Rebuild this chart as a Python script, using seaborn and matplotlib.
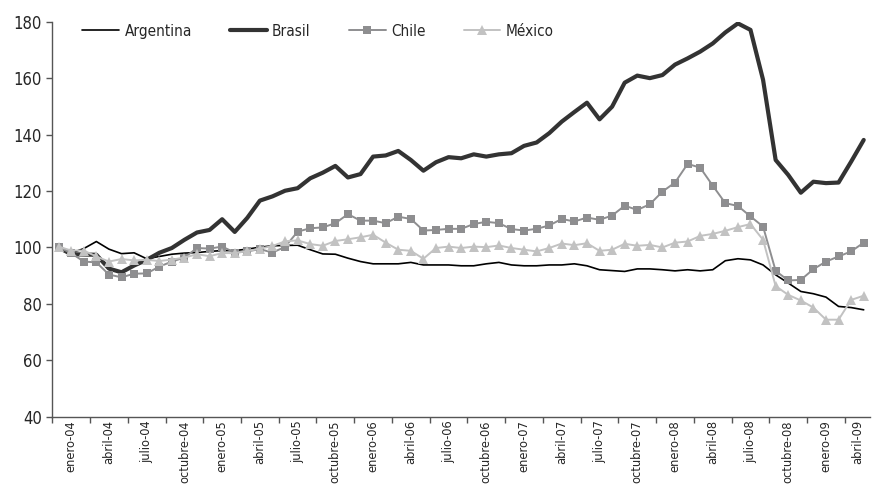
import numpy as np
import pandas as pd
import seaborn as sns
import matplotlib.pyplot as plt
import matplotlib.font_manager as fm
from matplotlib.ticker import FixedLocator

# índices mensuales, enero-04 a mayo-09
meses = ['enero', 'abril', 'julio', 'octubre']
anios = ['04', '05', '06', '07', '08', '09']
tick_labels = ['{}-{}'.format(m, a) for a in anios for m in meses][:22]

argentina = [100.0, 98.0, 99.6, 102.1, 99.4, 97.8, 98.1, 96.0, 96.8, 97.6,
             98.0, 98.2, 98.6, 98.9, 98.9, 99.4, 100.1, 100.6, 100.7, 100.8,
             99.2, 97.7, 97.6, 96.2, 95.0, 94.2, 94.2, 94.2, 94.7, 93.8,
             93.8, 93.8, 93.5, 93.5, 94.2, 94.7, 93.8, 93.5, 93.5, 93.8,
             93.8, 94.2, 93.5, 92.1, 91.8, 91.5, 92.4, 92.4, 92.1, 91.7,
             92.1, 91.7, 92.1, 95.3, 96.0, 95.6, 93.8, 90.3, 87.4, 84.4,
             83.6, 82.4, 79.1, 78.7, 77.9]
brasil = [100.0, 97.6, 97.5, 97.4, 92.5, 91.2, 93.6, 95.6, 98.1, 99.8,
          102.7, 105.3, 106.2, 110.0, 105.5, 110.5, 116.6, 118.1, 120.1, 121.0,
          124.5, 126.5, 128.9, 124.8, 126.0, 132.2, 132.6, 134.2, 131.0, 127.2,
          130.2, 132.0, 131.6, 133.0, 132.2, 133.0, 133.4, 136.0, 137.2, 140.5,
          144.6, 148.0, 151.3, 145.4, 149.9, 158.4, 160.9, 160.0, 161.1, 164.8,
          167.0, 169.4, 172.3, 176.2, 179.4, 177.1, 159.4, 131.0, 125.7, 119.4,
          123.3, 122.8, 123.0, 130.4, 138.1]
chile = [100.1, 98.0, 95.0, 94.7, 90.4, 89.4, 90.7, 90.8, 93.2, 95.0,
         96.4, 99.8, 99.6, 100.3, 98.2, 98.6, 99.4, 98.2, 100.2, 105.6,
         106.8, 107.1, 108.6, 111.8, 109.5, 109.5, 108.6, 110.9, 110.1, 106.0,
         106.2, 106.6, 106.6, 108.3, 109.1, 108.6, 106.5, 106.0, 106.6, 107.8,
         110.1, 109.2, 110.6, 109.8, 111.3, 114.8, 113.3, 115.3, 119.8, 123.0,
         129.6, 128.3, 121.9, 115.7, 114.7, 111.0, 107.4, 91.7, 88.3, 88.5,
         92.3, 95.0, 96.8, 98.6, 101.7]
mexico = [100.3, 98.9, 98.9, 96.8, 95.0, 95.9, 95.4, 95.6, 95.2, 95.7,
          96.4, 97.6, 96.9, 98.0, 98.0, 98.7, 99.6, 100.5, 102.2, 102.5,
          101.2, 100.6, 102.3, 102.9, 103.6, 104.5, 101.7, 99.2, 98.8, 96.0,
          99.8, 100.3, 99.8, 100.3, 100.1, 100.7, 99.8, 99.2, 98.6, 99.8,
          101.4, 100.8, 101.5, 98.8, 99.2, 101.3, 100.6, 100.9, 100.0, 101.7,
          102.1, 104.1, 104.8, 105.9, 107.2, 108.3, 102.7, 86.3, 83.2, 81.2,
          78.7, 74.4, 74.4, 81.4, 82.9]

n = len(brasil)
mes = np.arange(n)

sns.set_style('white')

# buscar una fuente estrecha; si no hay, letra normal más chica
fuentes = [(f.name, str(f.stretch)) for f in fm.fontManager.ttflist]
if any(nm == 'Liberation Sans Narrow' for nm, _ in fuentes):
    plt.rcParams['font.family'] = ['Liberation Sans Narrow', 'DejaVu Sans']
    fs = 10.5
elif any(nm == 'DejaVu Sans' and st in ('condensed', '87.5', 'semi-condensed') for nm, st in fuentes):
    plt.rcParams['font.family'] = ['DejaVu Sans']
    plt.rcParams['font.stretch'] = 'condensed'
    fs = 9.2
else:
    plt.rcParams['font.family'] = ['Liberation Sans', 'DejaVu Sans']
    fs = 8.8

fig = plt.figure(figsize=(8.72, 4.88), dpi=100)
ax = fig.add_axes([0.06, 0.146, 0.9377, 0.8095])

sns.lineplot(x=mes, y=argentina, ax=ax, color='black', linewidth=1.2, label='Argentina')
sns.lineplot(x=mes, y=brasil, ax=ax, color='#333333', linewidth=3.0, label='Brasil')
sns.lineplot(x=mes, y=chile, ax=ax, color='#8e8e90', linewidth=1.4, marker='s',
             markersize=6, markeredgewidth=0, label='Chile')
sns.lineplot(x=mes, y=mexico, ax=ax, color='#c2c2c2', linewidth=1.4, marker='^',
             markersize=7.5, markeredgewidth=0, label='México')

ax.set_xlim(-0.5, n - 0.5)
ax.set_ylim(40, 180)
ax.set_yticks(range(40, 181, 20))

# separadores cada trimestre, etiqueta centrada en el tramo
bounds = np.arange(-0.5, n, 3)
centers = [(b + min(b + 3, n - 0.5)) / 2 for b in bounds[:len(tick_labels)]]
ax.xaxis.set_minor_locator(FixedLocator(bounds))
ax.set_xticks(centers)
ax.set_xticklabels(tick_labels, rotation=90, fontsize=fs)
ax.tick_params(axis='x', which='major', length=0, pad=2.5)
ax.tick_params(axis='x', which='minor', length=4, width=1, color='#555555', direction='out', bottom=True)
ax.tick_params(axis='y', length=4, width=1, color='#555555', direction='out', left=True, labelsize=12)

for s in ['top', 'right']:
    ax.spines[s].set_visible(False)
for s in ['left', 'bottom']:
    ax.spines[s].set_color('#555555')
    ax.spines[s].set_linewidth(1)

ax.set_xlabel('')
ax.set_ylabel('')
ax.legend(loc='upper left', bbox_to_anchor=(0.02, 1.03), ncol=4, frameon=False,
          fontsize=11, handlelength=2.4, handletextpad=0.35, columnspacing=2.5)

plt.savefig('out.png', dpi=100)
